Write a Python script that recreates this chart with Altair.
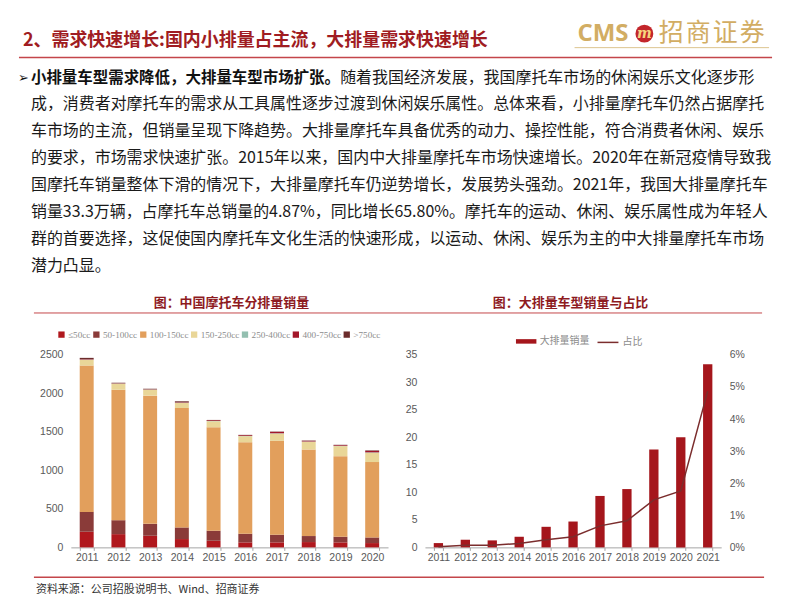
import altair as alt
import pandas as pd

# ---------------- text content ----------------
HEADER_TITLE = "2、需求快速增长:国内小排量占主流，大排量需求快速增长"
LOGO_EN = "CMS"
LOGO_CN = "招商证券"
LEAD_BOLD = "小排量车型需求降低，大排量车型市场扩张。"
PARA_LINES = [
    "随着我国经济发展，我国摩托车市场的休闲娱乐文化逐步形",
    "成，消费者对摩托车的需求从工具属性逐步过渡到休闲娱乐属性。总体来看，小排量摩托车仍然占据摩托",
    "车市场的主流，但销量呈现下降趋势。大排量摩托车具备优秀的动力、操控性能，符合消费者休闲、娱乐",
    "的要求，市场需求快速扩张。2015年以来，国内中大排量摩托车市场快速增长。2020年在新冠疫情导致我",
    "国摩托车销量整体下滑的情况下，大排量摩托车仍逆势增长，发展势头强劲。2021年，我国大排量摩托车",
    "销量33.3万辆，占摩托车总销量的4.87%，同比增长65.80%。摩托车的运动、休闲、娱乐属性成为年轻人",
    "群的首要选择，这促使国内摩托车文化生活的快速形成，以运动、休闲、娱乐为主的中大排量摩托车市场",
    "潜力凸显。",
]
LEFT_TITLE = "图：中国摩托车分排量销量"
RIGHT_TITLE = "图：大排量车型销量与占比"
SOURCE = "资料来源：公司招股说明书、Wind、招商证券"

# ---------------- left chart data ----------------
years_left = ["2011", "2012", "2013", "2014", "2015", "2016", "2017", "2018", "2019", "2020"]
categories = ["≤50cc", "50-100cc", "100-150cc", "150-250cc", "250-400cc", "400-750cc", ">750cc"]
cat_colors = ["#B0181D", "#8A3B39", "#E29F5C", "#E9D698", "#93BFB0", "#A3172A", "#6B2C2C"]
v_le50 = [203, 172, 151, 108, 86, 65, 65, 69, 65, 56]
v_50_100 = [258, 181, 155, 151, 130, 112, 99, 78, 73, 73]
v_100_150 = [1901, 1694, 1664, 1551, 1344, 1189, 1220, 1125, 1047, 979]
v_150_250 = [73, 78, 77, 65, 78, 78, 94, 99, 130, 120]
v_250_400 = [4, 3, 3, 4, 3, 3, 4, 4, 4, 6]
v_400_750 = [6, 4, 4, 6, 10, 10, 18, 9, 9, 18]
v_gt750 = [16, 6, 6, 12, 4, 4, 4, 4, 4, 7]
left_ticks = [0, 500, 1000, 1500, 2000, 2500]

# ---------------- right chart data ----------------
years_right = ["2011", "2012", "2013", "2014", "2015", "2016", "2017", "2018", "2019", "2020", "2021"]
big_sales = [0.78, 1.39, 1.27, 1.93, 3.74, 4.70, 9.35, 10.6, 17.8, 20.0, 33.3]
big_share = [0.0002, 0.0007, 0.0007, 0.0012, 0.0024, 0.0033, 0.0067, 0.0083, 0.0148, 0.0176, 0.0487]
right_ticks = [0, 5, 10, 15, 20, 25, 30, 35]
share_ticks = [0, 0.01, 0.02, 0.03, 0.04, 0.05, 0.06]
SERIES_BAR = "大排量销量"
SERIES_LINE = "占比"

CJK = "Noto Sans CJK SC"
NUM = "Liberation Sans"
RED_LINE = "#C4464A"
GOLD = "#D2AD63"
ROW_TOP = 347  # layout y of the plot tops (relative to the chart origin)

# ---------------- helpers (layout coordinates, converted to first-cell-relative) ----------------
def txt(s, x, y, size, color, weight="normal", font=CJK, align="left", italic=False):
    return alt.Chart(pd.DataFrame({"t": [s]})).mark_text(
        align=align, baseline="middle", font=font, fontSize=size,
        fontWeight=weight, color=color, fontStyle="italic" if italic else "normal",
    ).encode(x=alt.value(x), y=alt.value(y - ROW_TOP), text="t:N")


def hline(x1, x2, y, color, w):
    return alt.Chart(pd.DataFrame({"t": [0]})).mark_rule(color=color, strokeWidth=w).encode(
        x=alt.value(x1), x2=alt.value(x2), y=alt.value(y - ROW_TOP)
    )

# ---------------- header + footer (drawn in the first, flush cell) ----------------
deco = [
    hline(0, 786, 0.5, "white", 1),
    txt(HEADER_TITLE, 14, 32, 18, "#A01C22", weight="bold"),
    txt(LOGO_EN, 570, 25, 24, GOLD, weight="bold", font="Open Sans"),
    alt.Chart(pd.DataFrame({"t": [0]})).mark_point(
        filled=True, shape="circle", size=320, color="#C3262B", opacity=1
    ).encode(x=alt.value(637), y=alt.value(25 - ROW_TOP)),
    txt("m", 637, 25, 14, "#F6D57E", weight="bold", font="DejaVu Serif", align="center", italic=True),
]
for k, ch in enumerate(LOGO_CN):
    deco.append(txt(ch, 664 + k * 27, 24, 25, GOLD, align="center"))
deco += [
    hline(567, 762, 39, "#DCC48E", 1),
    hline(10, 765, 49, RED_LINE, 1.5),
    txt("➢", 9, 69, 13, "#111111", font="DejaVu Sans"),
    txt(LEAD_BOLD, 22, 69, 15.5, "#111111", weight="bold"),
]
for i, line in enumerate(PARA_LINES):
    x0 = 22 + 20 * 15.5 if i == 0 else 22
    deco.append(txt(line, x0, 69 + i * 27, 16, "#1A1A1A"))
deco += [
    txt(LEFT_TITLE, 223, 295, 13, "#8E1B1F", weight="bold", align="center"),
    txt(RIGHT_TITLE, 563, 295, 13, "#8E1B1F", weight="bold", align="center"),
    hline(25, 755, 305, RED_LINE, 1),
    hline(25, 757, 570, RED_LINE, 1.5),
    txt(SOURCE, 27, 583, 11, "#333333"),
]
spacer = alt.layer(*deco).properties(width=25, height=193)

# ---------------- left chart ----------------
series_left = [v_le50, v_50_100, v_100_150, v_150_250, v_250_400, v_400_750, v_gt750]
rows = []
for ci, (cat, vals) in enumerate(zip(categories, series_left)):
    for y, v in zip(years_left, vals):
        rows.append({"year": y, "cat": cat, "idx": ci, "value": v})
df_left = pd.DataFrame(rows)

x_axis = dict(title=None, labelAngle=0, labelFont=NUM, labelFontSize=10.5, labelColor="#595959",
              domainColor="#A6A6A6", tickColor="#A6A6A6", tickSize=3, tickBand="extent",
              labelPadding=2, grid=False)
y_axis = dict(title=None, domain=False, ticks=False, grid=False, labelFont=NUM, labelFontSize=10.5,
              labelColor="#595959", labelPadding=8)

left = alt.Chart(df_left).mark_bar().encode(
    x=alt.X("year:O", scale=alt.Scale(type="band", paddingInner=0.56, paddingOuter=0.28), axis=alt.Axis(**x_axis)),
    y=alt.Y("value:Q", stack="zero", scale=alt.Scale(domain=[0, 2500], nice=False),
            axis=alt.Axis(values=left_ticks, format="d", **y_axis)),
    color=alt.Color("cat:N", scale=alt.Scale(domain=categories, range=cat_colors),
                    legend=alt.Legend(title=None, orient="none", direction="horizontal", legendX=48, legendY=-25,
                                      symbolType="square", symbolSize=40, symbolStrokeWidth=0,
                                      labelFont="Liberation Serif", labelFontSize=9.2, labelColor="#8C8C8C",
                                      labelOffset=2, columnPadding=1)),
    order=alt.Order("idx:Q", sort="ascending"),
).properties(width=318, height=193)

# ---------------- right chart ----------------
df_right = pd.DataFrame({"year": years_right, "sales": big_sales, "share": big_share,
                         "s1": SERIES_BAR, "s2": SERIES_LINE})
xr = alt.Scale(type="band", paddingInner=0.655, paddingOuter=0.3275)
r_bars = alt.Chart(df_right).mark_bar().encode(
    x=alt.X("year:O", scale=xr, axis=alt.Axis(**x_axis)),
    y=alt.Y("sales:Q", scale=alt.Scale(domain=[0, 35], nice=False),
            axis=alt.Axis(values=right_ticks, format="d", **y_axis)),
    fill=alt.Fill("s1:N", scale=alt.Scale(domain=[SERIES_BAR], range=["#A5161C"]),
                  legend=alt.Legend(title=None, orient="none", legendX=508, legendY=-24,
                                    symbolType="M-1,-0.22L1,-0.22L1,0.22L-1,0.22Z", symbolSize=420,
                                    symbolStrokeWidth=0, labelFont=CJK, labelFontSize=10,
                                    labelColor="#8C8C8C", labelOffset=3)),
)
r_line = alt.Chart(df_right).mark_line(strokeWidth=1.5).encode(
    x=alt.X("year:O", scale=xr),
    y=alt.Y("share:Q", scale=alt.Scale(domain=[0, 0.06], nice=False),
            axis=alt.Axis(orient="right", format=".0%", values=share_ticks, **y_axis)),
    stroke=alt.Stroke("s2:N", scale=alt.Scale(domain=[SERIES_LINE], range=["#7B2D2D"]),
                      legend=alt.Legend(title=None, orient="none", legendX=589, legendY=-24,
                                        symbolType="stroke", symbolSize=440, symbolStrokeWidth=1.5,
                                        labelFont=CJK, labelFontSize=10, labelColor="#8C8C8C", labelOffset=3)),
)
right = alt.layer(r_bars, r_line).resolve_scale(y="independent").properties(width=297, height=193)

chart = alt.hconcat(spacer, left, right, spacing=37, bounds="flush").properties(
    padding=0, background="white"
).configure_view(stroke=None)

chart.save("out.html", embed_options={"renderer": "svg", "actions": False})
